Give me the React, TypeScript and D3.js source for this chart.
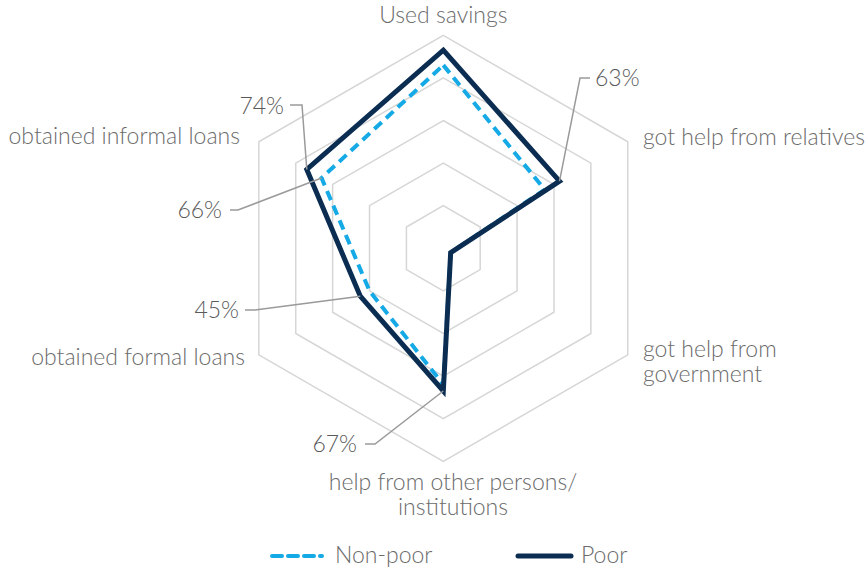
import * as d3 from "d3";

const axisNames = [
  "Used savings",
  "got help from relatives",
  "got help from government",
  "help from other persons/institutions",
  "obtained formal loans",
  "obtained informal loans",
];
const poorValues = [93, 63, 4, 67, 45, 74];
const nonPoorValues = [86, 55, 4, 64, 40, 66];
const ringLevels = [20, 40, 60, 80, 100];

// percentage call-outs: which series/axis they point at
const callouts = [
  { series: "poor", axis: 5, text: "74%", tx: 284, ty: 106, anchor: "end", elbow: [[290, 105], [302, 105]] },
  { series: "nonPoor", axis: 5, text: "66%", tx: 222, ty: 210, anchor: "end", elbow: [[230, 210], [238, 210]] },
  { series: "poor", axis: 4, text: "45%", tx: 239, ty: 310, anchor: "end", elbow: [[245, 310], [255, 310]] },
  { series: "poor", axis: 1, text: "63%", tx: 595, ty: 78, anchor: "start", elbow: [[590, 78], [580, 78]] },
  { series: "poor", axis: 3, text: "67%", tx: 357, ty: 444, anchor: "end", elbow: [[365, 444], [375, 444]] },
];

// axis label lines (wrapped by hand like the original)
const axisLabelLines = [
  { lines: ["Used savings"], x: 443.3, y: 15, anchor: "middle" },
  { lines: ["got help from relatives"], x: 643, y: 137, anchor: "start" },
  { lines: ["got help from", "government"], x: 643, y: 349, anchor: "start" },
  { lines: ["help from other persons/", "institutions"], x: 453, y: 482, anchor: "middle" },
  { lines: ["obtained formal loans"], x: 245, y: 357, anchor: "end" },
  { lines: ["obtained informal loans"], x: 240, y: 136, anchor: "end" },
];

const W = 868;
const H = 567;
const CX = 443.3;
const CY = 248.3;
const R = 213;
const FONT = "Lato, 'Open Sans', sans-serif";
const TEXT = "#6b6b6b";
const POOR = "#0b2d52";
const NONPOOR = "#15aae6";

export default function App() {
  const r = d3.scaleLinear().domain([0, 100]).range([0, R]);
  const angle = d3
    .scalePoint<number>()
    .domain(d3.range(axisNames.length + 1))
    .range([0, 2 * Math.PI]);

  const radial = d3
    .lineRadial<number>()
    .angle((_, i) => angle(i) ?? 0)
    .radius((d) => r(d))
    .curve(d3.curveLinearClosed);

  const pt = (i: number, v: number): [number, number] => {
    const a = angle(i) ?? 0;
    return [CX + r(v) * Math.sin(a), CY - r(v) * Math.cos(a)];
  };

  const series: Record<string, number[]> = { poor: poorValues, nonPoor: nonPoorValues };

  const labelStyle = { fontFamily: FONT, fontSize: 23, fontWeight: 300, fill: TEXT } as const;

  return (
    <div style={{ position: "fixed", left: 0, top: 0, background: "#fff" }}>
      <svg width={W} height={H} style={{ display: "block" }}>
        <g transform={`translate(${CX},${CY})`}>
          {ringLevels.map((lv) => (
            <path
              key={lv}
              d={radial(axisNames.map(() => lv)) ?? ""}
              fill="none"
              stroke="#d6d6d6"
              strokeWidth={1.5}
            />
          ))}
          <path
            d={radial(nonPoorValues) ?? ""}
            fill="none"
            stroke={NONPOOR}
            strokeWidth={4}
            strokeDasharray="10,6"
            strokeLinejoin="miter"
          />
          <path
            d={radial(poorValues) ?? ""}
            fill="none"
            stroke={POOR}
            strokeWidth={5}
            strokeLinejoin="miter"
          />
        </g>

        {callouts.map((c, i) => {
          const p = pt(c.axis, series[c.series][c.axis]);
          const pts = [...c.elbow, p] as [number, number][];
          return (
            <g key={i}>
              <path d={d3.line()(pts) ?? ""} fill="none" stroke="#9a9a9a" strokeWidth={1.5} />
              <text
                x={c.tx}
                y={c.ty}
                dy="0.35em"
                textAnchor={c.anchor as "start" | "end"}
                style={{ ...labelStyle, fill: "#5a5a5a" }}
              >
                {c.text}
              </text>
            </g>
          );
        })}

        {/* axis labels */}
        {axisLabelLines.map((l, i) =>
          l.lines.map((line, j) => (
            <text
              key={`${i}-${j}`}
              x={l.x}
              y={l.y + j * 25}
              dy="0.35em"
              textAnchor={l.anchor as "start" | "middle" | "end"}
              style={labelStyle}
            >
              {line}
            </text>
          ))
        )}

        {/* legend */}
        <line x1={272} x2={322} y1={556} y2={556} stroke={NONPOOR} strokeWidth={4} strokeDasharray="10,6" strokeLinecap="round" />
        <text x={335} y={555} dy="0.35em" style={labelStyle}>Non-poor</text>
        <line x1={518} x2={571} y1={556} y2={556} stroke={POOR} strokeWidth={5} strokeLinecap="round" />
        <text x={581} y={555} dy="0.35em" style={labelStyle}>Poor</text>
      </svg>
    </div>
  );
}
